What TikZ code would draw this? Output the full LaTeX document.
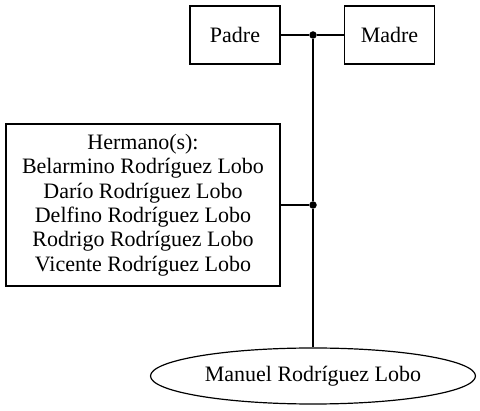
\documentclass[tikz,border=0pt]{standalone}
\usepackage{fontspec}
\setmainfont{Liberation Serif}
\usetikzlibrary{positioning,shapes.geometric}

\begin{document}
\begin{tikzpicture}[x=1pt,y=-1pt,line width=1.2pt,node distance=154.5pt,
        every node/.style={font=\fontsize{22}{24.4}\selectfont},
        person/.style={draw,rectangle,minimum width=90pt,minimum height=58pt,inner sep=0pt},
        union/.style={circle,fill,inner sep=0pt,minimum size=7.5pt}]
      \useasboundingbox (0,0) rectangle (480,411);
      \node[person] (padre) at (235,35) {Padre};
      \node[person] (madre) [right of=padre] {Madre};
      \node[union] (u1) at (313,35) {};
      \node[draw,rectangle,minimum width=274pt,minimum height=162pt,align=center] (hermanos) at (143,205)
        {Hermano(s):\\Belarmino Rodríguez Lobo\\Darío Rodríguez Lobo\\Delfino Rodríguez Lobo\\Rodrigo Rodríguez Lobo\\Vicente Rodríguez Lobo};
      \node[union] (u2) at (313,205) {};
      \node[draw,ellipse,minimum width=325pt,minimum height=56pt,inner sep=0pt] (ego) at (313,376) {Manuel Rodríguez Lobo};
      \draw (padre) -- (u1) -- (madre);
      \draw (u1) -- (u2) -- (ego);
      \draw (hermanos) -- (u2);
    \end{tikzpicture}
\end{document}
